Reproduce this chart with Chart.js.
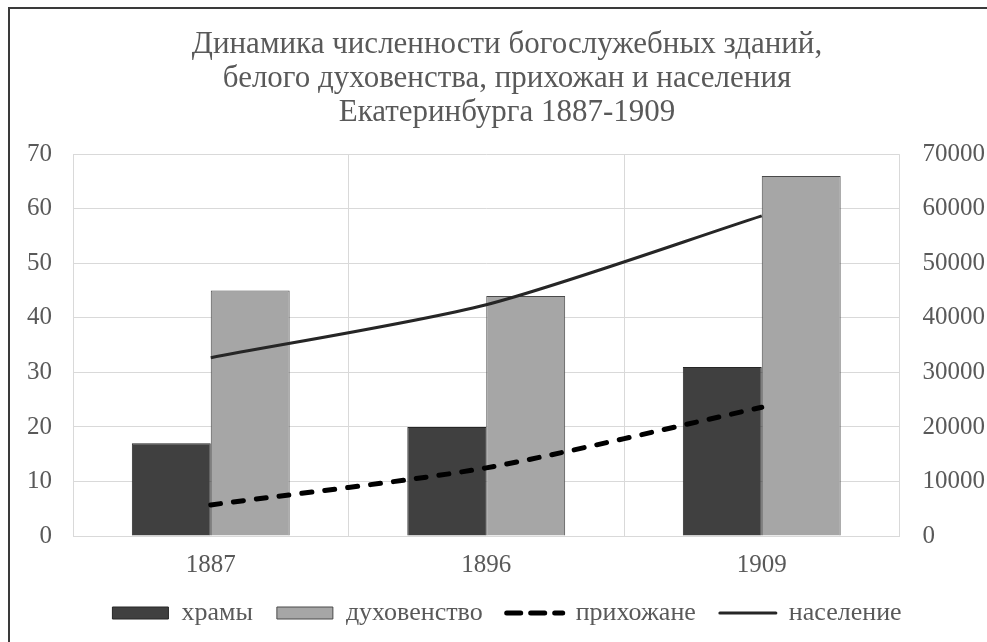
<!DOCTYPE html>
<html>
<head>
<meta charset="utf-8">
<script src="https://cdn.jsdelivr.net/npm/chart.js@4.4.0/dist/chart.umd.min.js"></script>
<style>
  html, body { margin: 0; padding: 0; background: #fff; overflow: hidden; }
  #wrap { position: relative; width: 987px; height: 642px; overflow: hidden; }
  #chart { position: absolute; left: 0; top: 0; }
  #frame {
    position: absolute; left: 8px; top: 7px; width: 1000px; height: 700px;
    border: 2px solid #3a3a3a; pointer-events: none;
  }
</style>
</head>
<body>
<div id="wrap">
  <canvas id="chart" width="1010" height="642"></canvas>
  <div id="frame"></div>
</div>
<script>
const years = ["1887", "1896", "1909"];
const churches = [17, 20, 31];        // храмы
const clergy = [45, 44, 66];          // духовенство
const parishioners = [5700, 12500, 23600];   // прихожане
const population = [32700, 42400, 58700];    // население

const titleLines = [
  "Динамика численности богослужебных зданий,",
  "белого духовенства, прихожан и населения",
  "Екатеринбурга 1887-1909"
];

const textColor = "#595959";
const gridColor = "#d9d9d9";

Chart.defaults.font.family = "'Liberation Serif', 'Times New Roman', serif";
Chart.defaults.color = textColor;

const ctx = document.getElementById("chart").getContext("2d");
new Chart(ctx, {
  type: "bar",
  data: {
    labels: years,
    datasets: [
      {
        label: "храмы",
        data: churches,
        backgroundColor: "#404040",
        borderColor: "#262626",
        borderWidth: 1,
        yAxisID: "y",
        order: 3,
      },
      {
        label: "духовенство",
        data: clergy,
        backgroundColor: "#a6a6a6",
        borderColor: "#4a4a4a",
        borderWidth: 1,
        yAxisID: "y",
        order: 3,
      },
      {
        type: "line",
        label: "прихожане",
        data: parishioners,
        borderColor: "#000000",
        backgroundColor: "transparent",
        borderWidth: 5,
        borderDash: [10, 13],
        borderCapStyle: "round",
        pointRadius: 0,
        tension: 0.25,
        fill: false,
        yAxisID: "y1",
        order: 1,
      },
      {
        type: "line",
        label: "население",
        data: population,
        borderColor: "#262626",
        backgroundColor: "transparent",
        borderWidth: 3,
        pointRadius: 0,
        tension: 0.25,
        fill: false,
        yAxisID: "y1",
        order: 1,
      },
    ],
  },
  options: {
    responsive: false,
    animation: false,
    devicePixelRatio: 1,
    layout: {
      padding: { left: 6, right: 2, top: 0, bottom: 6 },
    },
    datasets: {
      bar: {
        categoryPercentage: 0.573,
        barPercentage: 1.0,
      },
    },
    scales: {
      x: {
        grid: { color: gridColor, drawTicks: false, offset: true },
        border: { color: gridColor },
        ticks: { font: { size: 25 }, padding: 14, color: textColor },
        // keep the legend close under the year labels
        afterFit: (scale) => { scale.height = 40; },
      },
      y: {
        position: "left",
        min: 0,
        max: 70,
        grid: { color: gridColor, drawTicks: false },
        border: { color: gridColor },
        ticks: { stepSize: 10, font: { size: 25 }, padding: 21, color: textColor },
      },
      y1: {
        position: "right",
        min: 0,
        max: 70000,
        grid: { display: false, drawTicks: false },
        border: { display: false },
        ticks: {
          stepSize: 10000,
          font: { size: 25 },
          padding: 23,
          color: textColor,
          callback: (v) => String(v),
        },
      },
    },
    plugins: {
      title: {
        display: true,
        text: titleLines,
        color: textColor,
        font: { size: 31, weight: "normal", lineHeight: 1.1 },
        padding: { top: 28, bottom: 24 },
      },
      legend: {
        position: "bottom",
        labels: {
          usePointStyle: true,
          pointStyleWidth: 56,
          boxHeight: 12,
          padding: 24,
          color: textColor,
          font: { size: 26 },
          generateLabels: function (chart) {
            return chart.data.datasets.map(function (ds, i) {
              const isLine = ds.type === "line";
              return {
                text: ds.label,
                fillStyle: ds.backgroundColor,
                strokeStyle: ds.borderColor,
                lineWidth: isLine ? ds.borderWidth : 1,
                lineDash: isLine && ds.borderDash ? [14, 10] : [],
                lineCap: isLine ? "round" : "butt",
                pointStyle: isLine ? "line" : "rect",
                fontColor: textColor,
                datasetIndex: i,
              };
            });
          },
        },
      },
      tooltip: { enabled: false },
    },
  },
});
</script>
</body>
</html>
